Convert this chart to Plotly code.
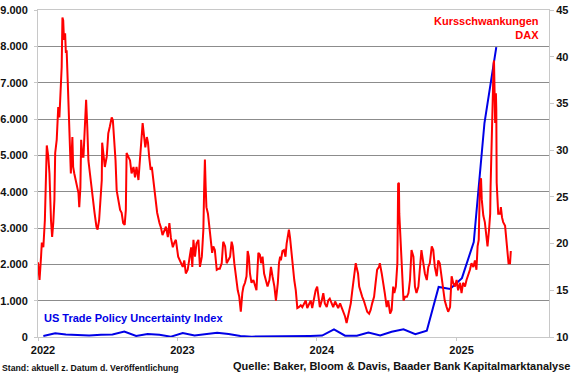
import pandas as pd
import plotly.graph_objects as go

# ---------------- data ----------------
start_date = pd.Timestamp("2022-01-01")

# DAX volatility (right axis): days since 2022-01-01 and value
vdax_day = [0, 4, 8, 10, 14, 18, 23, 27, 30, 31, 34, 37, 40, 43, 45, 49, 53, 56, 59, 62, 64, 66, 68, 71, 73, 75, 78, 81, 84, 86,
            90, 92, 95, 99, 101, 106, 108, 111, 113, 116, 119, 123, 126, 129, 132, 136, 141, 145, 148, 153, 156, 160, 164, 167,
            168, 171, 175, 180, 184, 188, 193, 196, 199, 203, 206, 210, 215, 219, 223, 227, 230, 232, 236, 241, 245, 250, 254,
            258, 263, 267, 271, 274, 278, 281, 285, 288, 291, 295, 298, 302, 305, 308, 312, 318, 322, 326, 331, 335, 340, 344,
            348, 353, 357, 361, 367, 374, 379, 383, 387, 392, 396, 401,
            404, 407, 411, 415, 420, 424, 429, 433, 435, 437, 439, 441, 445, 450, 453, 456, 459, 463, 468, 472, 476, 481, 485,
            490, 494, 498, 503, 507, 510, 514, 518, 523, 527, 531, 535, 538, 542, 546, 549, 552, 555, 559, 564, 568, 572, 577,
            581, 584, 588, 592, 597, 601, 606, 610, 614, 619, 623, 628, 631, 634, 636, 640, 644, 648, 651, 654, 657, 660, 663,
            667, 671, 675, 679, 683, 688, 692, 696, 701, 705, 709, 714, 718, 723, 727, 731, 735, 738, 743, 747, 751, 756, 760,
            764, 769, 773, 778, 782, 786, 791, 795, 799, 804, 808, 812, 815, 819, 823, 827, 832, 834, 838, 841, 845, 849, 853,
            858, 862, 867, 871, 875, 880, 884, 888, 893, 895, 900, 902, 908, 913, 917, 922, 926, 930, 933, 937, 941, 943, 945,
            946, 950, 952, 957, 961, 966, 970, 974, 978, 983, 987, 991, 996, 1000, 1004, 1009, 1013, 1018, 1022, 1026, 1031,
            1035, 1039, 1044, 1048, 1052, 1057, 1061, 1065, 1070, 1074, 1079, 1083, 1087, 1092, 1096, 1100, 1105, 1109, 1113,
            1118, 1122, 1126, 1131, 1135, 1140, 1144, 1148, 1151, 1154, 1157, 1160, 1162, 1166, 1170, 1173, 1177, 1181, 1184,
            1185, 1187, 1189, 1191, 1193, 1194, 1195, 1197, 1199, 1200, 1201, 1203, 1205, 1210, 1212, 1215, 1218, 1223, 1225,
            1229, 1232, 1236, 1238]
vdax_value = [18.0, 16.1, 18.6, 20.1, 19.6, 22.5, 30.5, 29.3, 27.5, 25.7, 22.5, 20.7, 22.2, 24.7, 29.7, 31.1, 34.6, 33.5, 36.8,
              38.9, 44.2, 43.9, 41.8, 42.5, 40.4, 40.7, 37.2, 33.5, 28.2, 27.5, 31.4, 28.2, 27.5, 26.8, 26.5, 25.4, 23.9, 26.0,
              31.1, 29.3, 29.3, 32.5, 35.4, 32.5, 28.9, 27.5, 25.7, 23.9, 23.3, 21.8, 21.5, 22.5, 24.7, 26.8, 30.8, 29.3, 28.2,
              29.3, 31.8, 32.5, 33.5, 33.2, 31.4, 28.9, 25.7, 24.7, 23.6, 23.3, 22.2, 22.0, 23.6, 29.7, 29.3, 28.9, 27.5, 28.2,
              27.1, 28.2, 26.8, 29.3, 32.2, 32.9, 31.4, 30.3, 31.4, 30.8, 29.3, 27.9, 28.2, 26.8, 25.4, 24.3, 23.3, 22.2, 21.7,
              20.9, 21.5, 21.8, 20.7, 22.2, 20.6, 19.6, 20.1, 20.4, 18.6, 17.9, 17.5, 18.2, 16.8, 17.2, 18.2, 19.6,
              17.5, 20.4, 18.6, 20.0, 20.4, 17.5, 18.6, 21.5, 25.7, 29.0, 26.1, 23.9, 23.2, 21.1, 19.7, 19.0, 19.7, 19.3, 17.2,
              17.3, 17.3, 17.9, 20.2, 19.7, 17.9, 18.2, 18.6, 20.2, 19.7, 17.9, 16.5, 15.0, 14.3, 12.7, 14.7, 15.4, 15.8, 16.5,
              19.2, 18.6, 16.8, 15.8, 16.1, 15.4, 15.0, 19.0, 18.8, 17.9, 18.6, 16.8, 15.8, 15.4, 16.1, 17.5, 16.5, 15.4, 13.9,
              15.8, 17.9, 18.6, 18.2, 19.2, 19.3, 18.6, 20.0, 21.1, 21.5, 20.6, 19.3, 17.2, 16.1, 15.0, 13.1, 13.2, 13.4, 13.2,
              13.6, 13.9, 13.1, 13.4, 13.9, 13.1, 14.3, 15.0, 15.4, 13.9, 13.2, 13.9, 14.7, 13.6, 13.2, 13.9, 14.1, 13.6, 13.2,
              13.8, 13.4, 13.1, 13.6, 13.2, 12.7, 12.2, 11.5, 12.2, 12.9, 13.6, 15.0, 16.5, 17.9, 17.5, 16.8, 15.4, 14.7, 14.3,
              13.9, 13.2, 12.7, 12.5, 12.9, 13.6, 14.3, 15.8, 17.2, 17.5, 17.9, 16.8, 16.1, 14.7, 13.2, 13.9, 12.5, 12.9, 15.4,
              14.7, 15.4, 17.9, 26.4, 26.5, 23.2, 19.7, 18.2, 13.9, 14.3, 14.3, 14.7, 16.1, 19.3, 18.6, 15.4, 14.7, 15.4, 17.5,
              19.3, 17.9, 16.8, 16.1, 17.5, 17.9, 19.7, 19.3, 17.5, 16.5, 18.2, 17.9, 16.5, 15.4, 13.9, 13.2, 12.7, 13.2, 16.5,
              15.8, 15.4, 16.1, 15.0, 15.8, 14.7, 15.8, 15.4, 16.1, 16.5, 17.2, 17.9, 17.5, 18.2, 17.2, 19.7, 20.4, 26.1, 27.0,
              24.7, 23.0, 22.3, 21.3, 19.7, 21.5, 23.2, 26.0, 30.3, 32.5, 37.2, 39.3, 39.6, 35.4, 32.9, 36.1, 34.3, 26.5, 25.4,
              23.2, 23.2, 23.9, 22.8, 22.3, 21.9, 20.9, 19.0, 17.9, 17.9, 19.2]

# US Trade Policy Uncertainty Index (left axis), monthly
tpu_months = [str(p) for p in pd.period_range("2022-01", "2025-04", freq="M")]
tpu_values = [30, 100, 70, 50, 40, 60, 70, 150, 30, 80, 60, 10,
              110, 40, 80, 120, 80, 30, 10, 10, 10, 10, 10, 30,
              40, 210, 35, 35, 120, 45, 145, 210, 80, 175, 1376, 1320,
              1620, 2615, 5890, 7980]

year_labels = ["2022", "2023", "2024", "2025"]
left_ticks = [0, 1000, 2000, 3000, 4000, 5000, 6000, 7000, 8000, 9000]
right_ticks = [10, 15, 20, 25, 30, 35, 40, 45]

# ---------------- figure ----------------
vdax_dates = [start_date + pd.Timedelta(days=d) for d in vdax_day]
tpu_dates = [pd.Timestamp(m + "-15") for m in tpu_months]

FONT = "Arial, 'Liberation Sans', sans-serif"
LIGHT = "#c8c8c8"

fig = go.Figure()
fig.add_trace(go.Scatter(x=vdax_dates, y=vdax_value, mode="lines", yaxis="y2",
                         line=dict(color="#ff0000", width=2), name="Kursschwankungen DAX"))
fig.add_trace(go.Scatter(x=tpu_dates, y=tpu_values, mode="lines", yaxis="y",
                         line=dict(color="#0000e6", width=2), name="US Trade Policy Uncertainty Index"))

fig.update_layout(
    width=580, height=375,
    margin=dict(l=38, r=31, t=10, b=38, autoexpand=False),
    paper_bgcolor="white", plot_bgcolor="white",
    showlegend=False,
    font=dict(family=FONT, size=11, color="#111111"),
    xaxis=dict(
        type="date", automargin=False,
        range=["2022-01-01", "2025-08-31"],
        tickvals=[y + "-01-01" for y in year_labels],
        ticktext=year_labels,
        ticklabelshift=5,
        showgrid=False, zeroline=False,
        showline=True, linecolor=LIGHT, linewidth=1, mirror=True,
        ticks="outside", ticklen=3, tickcolor=LIGHT,
        tickfont=dict(family=FONT, size=11, color="#111111", weight="bold"),
    ),
    yaxis=dict(
        range=[0, 9000], automargin=False,
        tickvals=left_ticks,
        ticktext=[f"{v:,}".replace(",", ".") for v in left_ticks],
        showgrid=True, gridcolor="#8c8c8c", gridwidth=1, zeroline=False,
        showline=True, linecolor=LIGHT, linewidth=1,
        ticks="outside", ticklen=3, tickcolor=LIGHT,
        ticklabelstandoff=4,
        tickfont=dict(family=FONT, size=11, color="#111111", weight="bold"),
    ),
    yaxis2=dict(
        range=[10, 45], automargin=False,
        tickvals=right_ticks,
        overlaying="y", side="right",
        showgrid=False, zeroline=False,
        showline=True, linecolor=LIGHT, linewidth=1,
        ticks="outside", ticklen=4, tickcolor=LIGHT,
        tickfont=dict(family=FONT, size=11, color="#111111", weight="bold"),
    ),
)

fig.add_annotation(text="US Trade Policy Uncertainty Index", xref="paper", yref="paper",
                   x=0.008, y=0.058, xanchor="left", yanchor="middle", showarrow=False,
                   font=dict(family=FONT, size=11, color="#0000e6", weight="bold"))
fig.add_annotation(text="Kursschwankungen<br>DAX", xref="paper", yref="paper",
                   x=0.984, y=0.992, xanchor="right", yanchor="top", align="right", showarrow=False,
                   font=dict(family=FONT, size=11, color="#ff0000", weight="bold"))
fig.add_annotation(text="Stand: aktuell z. Datum d. Veröffentlichung", xref="paper", yref="paper",
                   x=-0.074, y=-0.095, xanchor="left", yanchor="middle", showarrow=False,
                   font=dict(family=FONT, size=8.7, color="#111111", weight="bold"))
fig.add_annotation(text="Quelle: Baker, Bloom & Davis, Baader Bank Kapitalmarktanalyse", xref="paper", yref="paper",
                   x=1.045, y=-0.088, xanchor="right", yanchor="middle", showarrow=False,
                   font=dict(family=FONT, size=11, color="#111111", weight="bold"))

fig.write_html("out.html", config={"displayModeBar": False},
               post_script="document.body.style.margin='0';document.body.style.padding='0';document.body.style.overflow='hidden';")
